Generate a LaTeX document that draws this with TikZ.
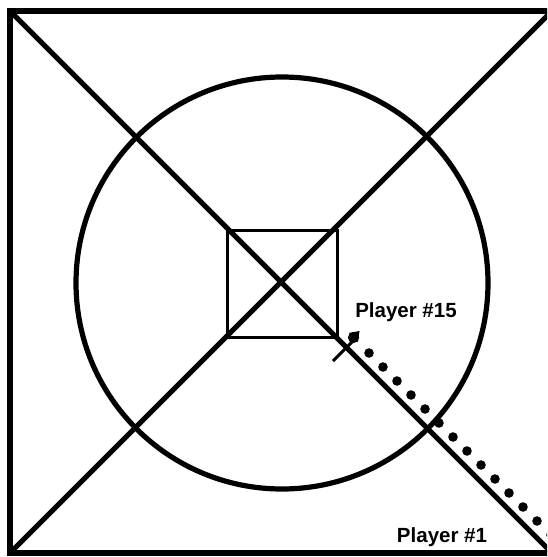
\documentclass[tikz,border=0pt]{standalone}
\usepackage{fontspec}
\setsansfont{Liberation Sans}
\usepackage{tikz}
\usetikzlibrary{positioning, calc}

\begin{document}
\begin{tikzpicture}[
  x=1pt, y=-1pt,
  heavy/.style={draw=black, line width=5.2pt},
  thin/.style={draw=black, line width=3pt},
  tag/.style={font=\sffamily\bfseries\fontsize{20.5}{23}\selectfont, inner sep=0pt},
  dot/.style={fill=black},
]
  \useasboundingbox (0,0) rectangle (547,557);
  \clip (0,0) rectangle (547,557);

  % corners of the field
  \coordinate (nw) at (10,11);
  \coordinate (ne) at (552,11);
  \coordinate (sw) at (10,553);
  \coordinate (se) at (552,553);
  \coordinate (mid) at (282,283);

  \draw[heavy] (nw) rectangle (se);
  \draw[heavy] (nw) -- (se);
  \draw[heavy] (sw) -- (ne);
  \draw[heavy] (mid) circle (206);
  \draw[thin] (227,230) rectangle (337,337);

  % player 15 marker
  \coordinate (mark-a) at (333,361);
  \coordinate (mark-b) at (352,342);
  \draw[thin] (mark-a) -- (mark-b);
  \fill (353.5,337.5) circle (5.6);
  \fill (349,333) -- (359.5,331) -- (358,342) -- cycle;

  % dotted run
  \foreach \i in {0,...,13}
    \fill[dot] (369+14*\i, 353+14*\i) circle (4.8);

  \node[tag] (p15) at (406,312) {Player \#15};
  \node[tag] (p1) at (442,537) {Player \#1};
\end{tikzpicture}
\end{document}
